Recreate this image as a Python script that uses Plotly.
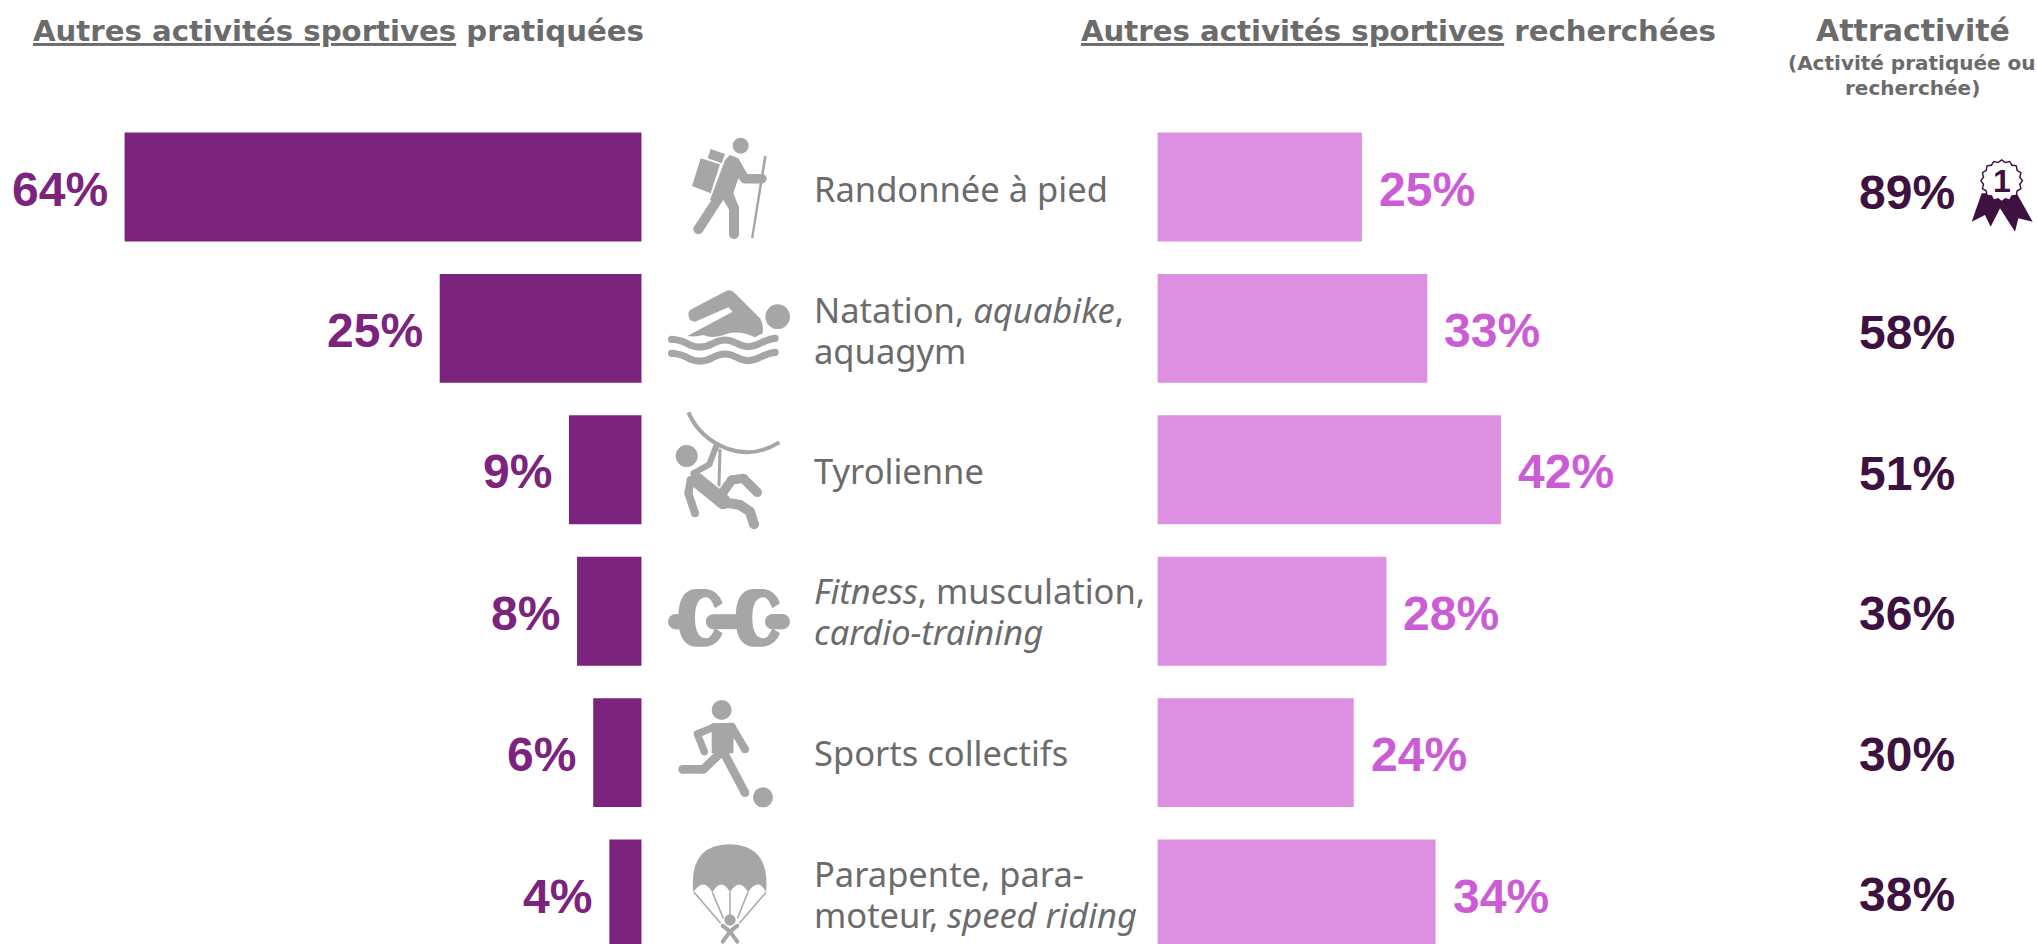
import re, math
import plotly.graph_objects as go

W, H = 2037, 944

activites = ["Randonnée à pied", "Natation, aquabike, aquagym", "Tyrolienne",
             "Fitness, musculation, cardio-training", "Sports collectifs",
             "Parapente, para-moteur, speed riding"]
libelles = [["Randonnée à pied"],
            ["Natation, <i>aquabike</i>,", "aquagym"],
            ["Tyrolienne"],
            ["<i>Fitness</i>, musculation,", "<i>cardio-training</i>"],
            ["Sports collectifs"],
            ["Parapente, para-", "moteur, <i>speed riding</i>"]]
pratiquees = [64, 25, 9, 8, 6, 4]
recherchees = [25, 33, 42, 28, 24, 34]
attractivite = [89, 58, 51, 36, 30, 38]

DARK, LIGHT, LIGHT_TXT, DEEP = "#7B237D", "#DD8FE2", "#CC5CD6", "#3D1240"
GREY_TXT, GREY_ICON = "#6B6B6B", "#A6A6A6"
SANS, WIDE, ARIAL = "Noto Sans", "DejaVu Sans", "Liberation Sans"

ROW0, PITCH = 187.0, 141.4
LEFT_EDGE, RIGHT_EDGE = 641.7, 1157.4
LEFT_SCALE, RIGHT_SCALE = 8.08, 8.18
LABEL_SHIFT = [-2, -2, -2, -4, -3, -4]


def px(x):
    return x / W


def py(y):
    return 1 - y / H


shapes = []
annotations = []


def note(x, y, text, size, color, family=SANS, anchor="center"):
    annotations.append(dict(x=px(x), y=py(y), xref="paper", yref="paper", text=text, showarrow=False,
                            xanchor=anchor, yanchor="middle", borderpad=0,
                            font=dict(size=size, color=color, family=family)))


def path(ox, oy, d, fill=GREY_ICON, stroke=None, width=0):
    """SVG path written in 3x crop coordinates around the origin (ox, oy)."""
    parts = re.split(r"([MLQCZ])", d)
    out = []
    for p in parts:
        if p in ("M", "L", "Q", "C", "Z"):
            out.append(p)
        elif p.strip():
            nums = [float(v) for v in re.findall(r"-?\d+\.?\d*", p)]
            pairs = [f"{px(ox + nums[i] / 3):.5f},{py(oy + nums[i + 1] / 3):.5f}" for i in range(0, len(nums), 2)]
            out.append(" ".join(pairs))
    shapes.append(dict(type="path", xref="paper", yref="paper", path=" ".join(out),
                       fillcolor=fill if fill else "rgba(0,0,0,0)",
                       line=dict(color=stroke or "rgba(0,0,0,0)", width=width)))


def circle(ox, oy, cx, cy, r, fill=GREY_ICON):
    x, y, r = ox + cx / 3, oy + cy / 3, r / 3
    shapes.append(dict(type="circle", xref="paper", yref="paper", x0=px(x - r), x1=px(x + r),
                       y0=py(y + r), y1=py(y - r), fillcolor=fill, line=dict(width=0)))


def limb(ox, oy, pts, w, fill=GREY_ICON):
    for (a, b), (c, d) in zip(pts[:-1], pts[1:]):
        L = math.hypot(c - a, d - b)
        nx, ny = -(d - b) / L * w / 2, (c - a) / L * w / 2
        path(ox, oy, f"M{a + nx},{b + ny} L{c + nx},{d + ny} L{c - nx},{d - ny} L{a - nx},{b - ny} Z", fill)
    for (a, b) in pts:
        circle(ox, oy, a, b, w / 2, fill)


# Hiker
o = (670, 130)
circle(*o, 212, 47, 24)
path(*o, "M92,85 L150,103 L122,190 L66,168 Z")
path(*o, "M122,57 L165,72 L155,100 L113,85 Z")
path(*o, "M180,75 L205,85 L232,132 L280,132 L280,160 L218,160 L205,145 L190,190 L208,235 L178,240 L160,210 L120,210 L165,90 Z")
limb(*o, [(85, 298), (145, 205)], 30)
limb(*o, [(192, 235), (192, 312)], 30)
limb(*o, [(276, 146), (225, 146)], 28)
path(*o, "M282,78 L290,78 L250,325 L243,325 Z")
# Swimmer
o = (660, 280)
circle(*o, 353, 110, 37)
path(*o, "M90,90 L200,32 Q215,28 225,40 L300,115 Q312,135 308,160 L285,172 Q240,150 200,162 Q160,178 130,165 Q105,172 82,168 L218,95 L205,82 L105,125 Q85,125 85,100 Z")
for dy in (0, 42):
    path(*o, f"M35,{178 + dy} Q65,{180 + dy} 90,{195 + dy} Q125,{210 + dy} 160,{190 + dy} Q195,{170 + dy} 230,{190 + dy} Q265,{210 + dy} 300,{190 + dy} Q325,{178 + dy} 345,{175 + dy}",
         fill=None, stroke=GREY_ICON, width=7)
    circle(*o, 35, 178 + dy, 11)
    circle(*o, 345, 175 + dy, 11)
# Zip line
o = (670, 405)
path(*o, "M55,22 Q90,100 170,130 Q250,160 328,112", fill=None, stroke=GREY_ICON, width=4)
circle(*o, 50, 153, 33)
limb(*o, [(80, 225), (160, 290)], 45)
limb(*o, [(62, 225), (55, 265), (75, 325)], 24)
limb(*o, [(70, 205), (118, 178), (138, 125)], 18)
limb(*o, [(150, 135), (147, 240)], 9)
limb(*o, [(150, 290), (210, 300), (240, 320), (252, 358)], 30)
limb(*o, [(160, 260), (185, 225), (220, 220), (262, 262)], 28)
# Dumbbell
o = (660, 570)
disc = "M{0},57 L{1},57 Q{2},62 {3},100 L{4},115 Q{5},82 {1},82 Q{0},82 {0},143 Q{0},205 {1},205 Q{5},205 {4},175 L{3},190 Q{2},225 {1},230 L{0},230 Q{6},225 {6},143 Q{6},62 {0},57 Z"
for dx in (0, 172):
    path(*o, disc.format(105 + dx, 140 + dx, 175 + dx, 188 + dx, 165 + dx, 152 + dx, 55 + dx))
limb(*o, [(47, 155), (60, 155)], 46)
limb(*o, [(160, 155), (235, 155)], 45)
limb(*o, [(338, 155), (367, 155)], 46)
# Football player
o = (670, 690)
circle(*o, 155, 60, 30)
circle(*o, 279, 322, 30)
path(*o, "M125,100 L185,98 L192,110 L190,190 L125,190 Z")
limb(*o, [(185, 110), (225, 178)], 24)
limb(*o, [(130, 112), (82, 132), (103, 185)], 22)
limb(*o, [(145, 195), (100, 238), (38, 238)], 26)
limb(*o, [(165, 195), (225, 308)], 26)
# Parachute
o = (680, 835)
path(*o, "M40,172 Q25,30 148,28 Q272,30 258,172 Q235,125 204,172 Q178,125 150,172 Q125,125 97,172 Q70,125 40,172 Z")
for a, b, c, d in [(42, 172, 122, 265), (97, 172, 130, 250), (150, 172, 150, 240), (204, 172, 172, 250), (258, 172, 178, 265)]:
    path(*o, f"M{a},{b} L{c},{d}", fill=None, stroke=GREY_ICON, width=1.5)
circle(*o, 150, 255, 17)
limb(*o, [(128, 272), (150, 290), (172, 272)], 12)
limb(*o, [(128, 320), (150, 290), (172, 320)], 12)
# Rosette
o = (1960, 150)
path(*o, "M65,130 L35,215 L75,195 L92,230 L120,175 L165,245 L175,205 L218,215 L170,130 Z", fill=DEEP)


def star(r1, r2, n=16, c=(125, 92)):
    pts = []
    for i in range(2 * n):
        r = r1 if i % 2 == 0 else r2
        a = math.pi * i / n
        pts.append(f"{c[0] + r * math.cos(a):.1f},{c[1] + r * math.sin(a):.1f}")
    return "M" + " L".join(pts) + " Z"


path(*o, star(65, 58), fill=DEEP)
path(*o, star(60, 53), fill="#FFFFFF")
note(1960 + 125 / 3, 150 + 92 / 3, "<b>1</b>", 32, DEEP, ARIAL)

# Headers
note(32, 31, "<b><u>Autres activités sportives</u> pratiquées</b>", 29.2, GREY_TXT, WIDE, anchor="left")
note(1080, 31, "<b><u>Autres activités sportives</u> recherchées</b>", 29.2, GREY_TXT, WIDE, anchor="left")
note(1913, 30, "<b>Attractivité</b>", 30, GREY_TXT, WIDE)
note(1912, 63, "<b>(Activité pratiquée ou</b>", 20, GREY_TXT, WIDE)
note(1912, 88, "<b>recherchée)</b>", 20, GREY_TXT, WIDE)

# Row texts and values
for i, lines in enumerate(libelles):
    yc = ROW0 + PITCH * i
    offs = [3] if len(lines) == 1 else [-17, 24]
    for line, off in zip(lines, offs):
        note(813, yc + off + LABEL_SHIFT[i], line, 34.5, GREY_TXT, anchor="left")
    note(1956, 192.5 + 140.4 * i, f"<b>{attractivite[i]}%</b>", 48, DEEP, ARIAL, anchor="right")
    annotations.append(dict(x=pratiquees[i], y=activites[i], xref="x", yref="y", text=f"<b>{pratiquees[i]}%</b>",
                            showarrow=False, xanchor="right", yanchor="middle", xshift=-16, yshift=-2, borderpad=0,
                            font=dict(size=48, color=DARK, family=ARIAL)))
    annotations.append(dict(x=recherchees[i], y=activites[i], xref="x2", yref="y2", text=f"<b>{recherchees[i]}%</b>",
                            showarrow=False, xanchor="left", yanchor="middle", xshift=16, yshift=-2, borderpad=0,
                            font=dict(size=48, color=LIGHT_TXT, family=ARIAL)))

fig = go.Figure()
fig.add_bar(y=activites, x=pratiquees, orientation="h", marker=dict(color=DARK, line=dict(width=0)),
            xaxis="x", yaxis="y", hoverinfo="skip", showlegend=False)
fig.add_bar(y=activites, x=recherchees, orientation="h", marker=dict(color=LIGHT, line=dict(width=0)),
            xaxis="x2", yaxis="y2", hoverinfo="skip", showlegend=False)

y_range = [(H - ROW0) / PITCH, -ROW0 / PITCH]
yax = dict(domain=[0, 1], range=y_range, visible=False, type="category", categoryorder="array", categoryarray=activites)
fig.update_layout(
    width=W, height=H, margin=dict(l=0, r=0, t=0, b=0), autosize=False,
    paper_bgcolor="white", plot_bgcolor="white", bargap=0.23,
    xaxis=dict(domain=[0, px(LEFT_EDGE)], range=[LEFT_EDGE / LEFT_SCALE, 0], visible=False, anchor="y"),
    xaxis2=dict(domain=[px(RIGHT_EDGE), 1], range=[0, (W - RIGHT_EDGE) / RIGHT_SCALE], visible=False, anchor="y2"),
    yaxis=dict(**yax, anchor="x"),
    yaxis2=dict(**yax, anchor="x2"),
    shapes=shapes, annotations=annotations,
)
fig.write_html("out.html", config=dict(displayModeBar=False),
               post_script="document.body.style.margin='0';document.body.style.overflow='hidden';")
